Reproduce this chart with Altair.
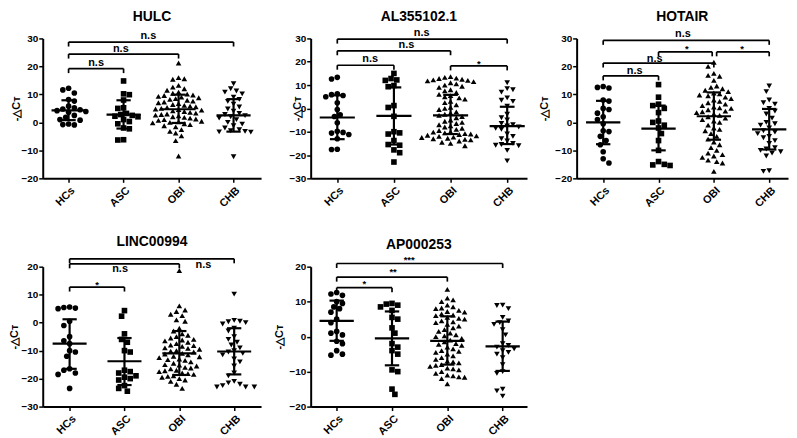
import altair as alt
import pandas as pd

FONT = "Liberation Sans"
GROUPS = ["HCs", "ASC", "OBI", "CHB"]
SHAPES = ["circle", "square", "triangle-up", "triangle-down"]
HEIGHT = 141

# ---------------- HULC ----------------
HULC_HCS = [12.2, 11.6, 10.5, 8.2, 7.6, 5.8, 5.2, 4.8, 4.5, 4.2, 3.9, 3.6, 2.5, 1.8, 1.0, 0.8, -0.6, -0.8, -0.9]
HULC_ASC = [14.8, 10.2, 9.9, 8.0, 5.2, 5.0, 3.2, 2.8, 2.5, 2.2, 2.0, 1.0, 0.3, -0.5, -2.0, -2.3, -6.2, -6.3]
HULC_OBI = [21.2, 16.0, 15.6, 15.4, 13.2, 12.6, 12.0, 11.5, 10.8, 10.4, 10.1, 9.8, 9.6, 9.3, 9.0, 8.8, 8.5,
            8.2, 7.9, 7.6, 7.3, 7.0, 6.7, 6.4, 6.1, 5.8, 5.6, 5.3, 5.0, 4.8, 4.6, 4.4, 4.1, 3.9, 3.6, 3.3,
            3.0, 2.8, 2.6, 2.3, 2.0, 1.8, 1.5, 1.2, 1.0, 0.7, 0.4, 0.2, 0.0, -0.2, -0.5, -0.8, -1.2, -1.6,
            -2.6, -3.2, -3.8, -4.8, -6.5, -12.0]
HULC_CHB = [13.8, 12.0, 11.2, 10.8, 10.2, 9.0, 8.2, 7.5, 6.5, 5.5, 4.8, 4.0, 3.2, 2.8, 2.4, 2.0, 1.5, 1.0,
            0.0, -0.6, -1.2, -2.0, -2.6, -3.0, -3.2, -3.4, -3.5, -12.3]
HULC_MEAN = [4.3, 2.8, 4.7, 2.5]
HULC_UP = [7.9, 7.9, 9.9, 8.3]
HULC_LO = [0.8, -2.2, -0.2, -3.3]
HULC_BR_FROM = [0, 0, 0]
HULC_BR_TO = [1, 2, 3]
HULC_BR_Y = [19.2, 24.4, 28.7]
HULC_BR_TEXT = ["n.s", "n.s", "n.s"]
HULC_LAB_X = [0.5, 0.95, 1.45]
HULC_LAB_Y = [21.2, 26.2, 31.0]

# ---------------- AL355102.1 ----------------
AL_HCS = [13.3, 12.6, 6.3, 5.9, 5.5, 5.0, 2.4, -0.5, -2.8, -3.5, -6.2, -9.8, -10.3, -10.6, -11.2, -13.0, -17.5, -17.6]
AL_ASC = [15.0, 12.8, 12.2, 12.0, 9.8, 9.3, 1.2, 0.4, -3.4, -10.0, -10.5, -11.0, -13.8, -15.5, -15.8, -17.8, -19.0, -23.0]
AL_OBI = [13.6, 13.3, 13.0, 12.8, 12.5, 12.2, 12.0, 11.8, 11.5, 11.0, 10.5, 10.0, 9.5, 9.0, 8.0, 7.5, 6.8,
          6.0, 5.5, 5.0, 4.5, 4.0, 3.0, 2.5, 1.5, 0.5, 0.0, -0.5, -1.5, -2.0, -2.5, -3.0, -3.5, -4.0, -5.0,
          -5.5, -6.0, -6.5, -7.0, -7.5, -8.0, -8.5, -9.0, -9.5, -10.0, -10.2, -10.5, -10.8, -11.0, -11.2,
          -11.5, -11.8, -12.0, -12.3, -12.5, -12.8, -13.0, -13.3, -13.5, -14.0, -14.5, -15.0, -16.0]
AL_CHB = [11.0, 8.5, 8.0, 7.0, 4.5, 3.5, 3.0, 1.0, -2.5, -4.0, -5.0, -6.5, -7.0, -7.5, -8.0, -8.5, -9.0,
          -11.0, -12.0, -13.0, -14.0, -15.0, -15.5, -15.8, -16.0, -18.0, -22.5]
AL_MEAN = [-3.9, -3.2, -3.0, -7.6]
AL_UP = [5.6, 9.0, 5.8, 0.7]
AL_LO = [-13.2, -15.5, -11.0, -15.3]
AL_BR_FROM = [0, 0, 0, 2]
AL_BR_TO = [1, 2, 3, 3]
AL_BR_Y = [18.5, 24.7, 29.7, 18.2]
AL_BR_TEXT = ["n.s", "n.s", "n.s", "*"]
AL_LAB_X = [0.58, 1.22, 1.49, 2.5]
AL_LAB_Y = [21.3, 27.2, 32.5, 20.3]

# ---------------- HOTAIR ----------------
HOT_HCS = [12.8, 12.5, 12.3, 8.0, 7.6, 5.0, 4.6, 3.3, 2.0, 1.0, -0.5, -3.0, -3.3, -5.0, -6.5, -8.0, -10.5, -13.0, -14.5]
HOT_ASC = [13.5, 9.0, 6.5, 6.0, 5.0, 3.5, 0.5, 0.0, -1.0, -2.0, -4.0, -6.5, -10.0, -14.0, -15.0, -15.2, -15.4]
HOT_OBI = [21.5, 20.0, 17.5, 16.8, 16.5, 15.0, 13.0, 12.5, 12.0, 11.5, 11.0, 10.5, 10.2, 9.8, 9.5, 9.0,
           8.5, 8.0, 7.5, 7.0, 6.5, 6.0, 5.5, 5.2, 5.0, 4.5, 4.0, 3.8, 3.5, 3.0, 2.5, 2.0, 1.5, 1.0, 0.5,
           0.0, -1.0, -2.0, -2.5, -3.0, -4.0, -5.0, -6.0, -7.0, -8.0, -9.0, -10.0, -11.0, -11.5, -12.0,
           -12.5, -13.5, -14.0, -14.5, -17.5]
HOT_CHB = [13.0, 11.0, 8.0, 7.0, 6.5, 5.0, 4.0, 3.0, 1.5, 0.0, -0.5, -1.0, -2.0, -3.0, -3.5, -4.0, -5.0,
           -5.5, -6.5, -7.5, -9.0, -9.5, -10.0, -10.5, -11.0, -12.0, -17.3, -17.5]
HOT_MEAN = [0.0, -2.2, 2.2, -2.5]
HOT_UP = [7.7, 6.0, 10.7, 4.8]
HOT_LO = [-7.8, -10.0, -6.2, -9.7]
HOT_BR_FROM = [0, 0, 1, 2.05, 0]
HOT_BR_TO = [1, 2, 1.97, 3, 3]
HOT_BR_Y = [16.6, 21.2, 25.2, 25.2, 29.3]
HOT_BR_TEXT = ["n.s", "n.s", "*", "*", "n.s"]
HOT_LAB_X = [0.57, 0.93, 1.51, 2.51, 1.44]
HOT_LAB_Y = [18.3, 22.6, 27.0, 27.0, 31.4]

# ---------------- LINC00994 ----------------
LINC_HCS = [5.6, 5.4, 5.2, 5.0, 0.5, -1.0, -5.0, -6.5, -7.5, -10.0, -10.5, -12.0, -16.5, -17.0, -18.0, -18.5, -23.5]
LINC_ASC = [4.3, 2.3, -4.0, -6.0, -7.0, -10.0, -10.5, -17.0, -17.5, -18.0, -19.0, -19.5, -20.0, -20.5, -22.5, -23.5, -24.5]
LINC_OBI = [18.6, 6.0, 4.5, 4.0, 3.0, 2.5, 1.0, 0.5, -2.0, -3.0, -4.0, -4.5, -5.0, -5.5, -6.0, -6.2, -6.5,
            -7.0, -7.5, -8.0, -8.2, -8.5, -9.0, -9.2, -9.5, -10.0, -10.2, -10.5, -11.0, -11.2, -11.5, -12.0,
            -12.2, -12.5, -13.0, -13.2, -13.5, -14.0, -14.5, -15.0, -15.2, -15.5, -16.0, -16.2, -16.5, -17.0,
            -17.2, -17.5, -18.0, -18.2, -18.5, -19.0, -19.2, -19.5, -20.0, -20.5, -21.0, -22.0, -23.5]
LINC_CHB = [10.2, 0.8, 0.5, 0.3, 0.0, -0.5, -2.0, -3.0, -5.0, -6.0, -7.0, -8.0, -9.0, -10.0, -10.5, -11.0,
            -11.5, -13.0, -14.0, -15.5, -18.0, -19.0, -21.0, -21.5, -22.0, -22.5, -23.0, -23.0, -23.0]
LINC_MEAN = [-7.5, -13.8, -11.0, -10.3]
LINC_UP = [1.2, -5.5, -3.0, -2.0]
LINC_LO = [-16.5, -22.3, -18.7, -18.5]
LINC_BR_FROM = [0, 0, 0]
LINC_BR_TO = [1, 2, 3]
LINC_BR_Y = [12.7, 21.0, 22.8]
LINC_BR_TEXT = ["*", "n.s", "n.s"]
LINC_LAB_X = [0.5, 0.92, 2.44]
LINC_LAB_Y = [14.4, 19.3, 20.7]

# ---------------- AP000253 ----------------
AP_HCS = [12.6, 12.2, 11.8, 10.0, 9.5, 8.5, 8.0, 7.0, 5.0, 4.0, 1.5, 1.0, 0.5, -1.3, -2.0, -4.0, -5.0, -5.3]
AP_ASC = [9.5, 9.3, 9.0, 8.5, 7.5, 5.5, 5.0, 2.5, 1.0, -2.0, -3.0, -4.0, -5.0, -9.5, -10.0, -15.0, -16.5]
AP_OBI = [13.5, 11.0, 10.5, 10.0, 9.0, 8.5, 8.2, 8.0, 7.5, 7.2, 7.0, 6.5, 6.2, 6.0, 5.5, 5.2, 5.0, 4.5,
          4.2, 4.0, 3.5, 3.0, 2.5, 2.0, 1.5, 1.0, 0.5, 0.2, 0.0, -0.5, -1.0, -1.5, -2.0, -2.2, -2.5, -3.0,
          -3.5, -4.0, -4.2, -4.5, -5.0, -5.5, -6.0, -6.5, -7.0, -7.2, -7.5, -8.0, -8.2, -8.5, -9.0, -9.2,
          -9.5, -10.0, -10.5, -11.0, -11.2, -11.5, -11.6, -12.0, -13.5]
AP_CHB = [9.0, 8.9, 8.0, 5.5, 4.5, 4.0, 3.5, 2.0, 0.5, -2.0, -2.5, -3.0, -3.5, -4.0, -4.5, -5.0, -6.0,
          -8.0, -10.0, -10.5, -15.0, -15.5, -17.0]
AP_MEAN = [4.5, -0.5, -1.2, -2.8]
AP_UP = [10.3, 7.2, 5.8, 4.3]
AP_LO = [-1.2, -8.2, -8.0, -9.8]
AP_BR_FROM = [0, 0, 0]
AP_BR_TO = [1, 2, 3]
AP_BR_Y = [14.0, 17.0, 20.9]
AP_BR_TEXT = ["*", "**", "***"]
AP_LAB_X = [0.5, 1.02, 1.31]
AP_LAB_Y = [15.8, 19.1, 22.6]

PANELS = [
    dict(title="HULC", ydom=[-20, 30], xdom=[-0.47, 3.5], width=220, ytx=-26, toff=8.5, tdy=14,
         groups=[HULC_HCS, HULC_ASC, HULC_OBI, HULC_CHB], mean=HULC_MEAN, up=HULC_UP, lo=HULC_LO,
         bf=HULC_BR_FROM, bt=HULC_BR_TO, by=HULC_BR_Y, btext=HULC_BR_TEXT, lx=HULC_LAB_X, ly=HULC_LAB_Y),
    dict(title="AL355102.1", ydom=[-30, 30], xdom=[-0.47, 3.35], width=218, ytx=-13, toff=5.5, tdy=14,
         groups=[AL_HCS, AL_ASC, AL_OBI, AL_CHB], mean=AL_MEAN, up=AL_UP, lo=AL_LO,
         bf=AL_BR_FROM, bt=AL_BR_TO, by=AL_BR_Y, btext=AL_BR_TEXT, lx=AL_LAB_X, ly=AL_LAB_Y),
    dict(title="HOTAIR", ydom=[-20, 30], xdom=[-0.48, 3.34], width=213, ytx=-32, toff=7.5, tdy=14,
         groups=[HOT_HCS, HOT_ASC, HOT_OBI, HOT_CHB], mean=HOT_MEAN, up=HOT_UP, lo=HOT_LO,
         bf=HOT_BR_FROM, bt=HOT_BR_TO, by=HOT_BR_Y, btext=HOT_BR_TEXT, lx=HOT_LAB_X, ly=HOT_LAB_Y),
    dict(title="LINC00994", ydom=[-30, 20], xdom=[-0.49, 3.49], width=220, ytx=-28, toff=11, tdy=13,
         groups=[LINC_HCS, LINC_ASC, LINC_OBI, LINC_CHB], mean=LINC_MEAN, up=LINC_UP, lo=LINC_LO,
         bf=LINC_BR_FROM, bt=LINC_BR_TO, by=LINC_BR_Y, btext=LINC_BR_TEXT, lx=LINC_LAB_X, ly=LINC_LAB_Y),
    dict(title="AP000253", ydom=[-20, 20], xdom=[-0.47, 3.44], width=218, ytx=-31, toff=3, tdy=11,
         groups=[AP_HCS, AP_ASC, AP_OBI, AP_CHB], mean=AP_MEAN, up=AP_UP, lo=AP_LO,
         bf=AP_BR_FROM, bt=AP_BR_TO, by=AP_BR_Y, btext=AP_BR_TEXT, lx=AP_LAB_X, ly=AP_LAB_Y),
]


def swarm_offsets(vals, xpx, ypx, d=5.8):
    """Deterministic beeswarm: place points side by side where they would overlap."""
    order = sorted(range(len(vals)), key=lambda i: -vals[i])
    placed = []
    out = [0.0] * len(vals)
    for n, i in enumerate(order):
        yy = vals[i] * ypx
        best = 0.0
        sign = 1 if n % 2 == 0 else -1
        for k in range(0, 40):
            step = ((k + 1) // 2) * d * 0.5
            cand = 0.0 if k == 0 else (sign * step if k % 2 == 1 else -sign * step)
            if all((cand - px) ** 2 + (yy - py) ** 2 >= d * d for px, py in placed):
                best = cand
                break
        placed.append((best, yy))
        out[i] = best / xpx
    return out


def panel_chart(p):
    W, H = p["width"], HEIGHT
    y0, y1 = p["ydom"]
    x0, x1 = p["xdom"]
    xpx = W / (x1 - x0)
    ypx = H / (y1 - y0)

    rows = []
    for gi, vals in enumerate(p["groups"]):
        offs = swarm_offsets(vals, xpx, ypx)
        for v, o in zip(vals, offs):
            rows.append({"g": GROUPS[gi], "x": gi + o, "v": v})
    pts = pd.DataFrame(rows)

    eb = pd.DataFrame({
        "idx": list(range(4)), "mean": p["mean"], "up": p["up"], "lo": p["lo"],
    })
    eb["m1"] = eb["idx"] - 0.31
    eb["m2"] = eb["idx"] + 0.31
    eb["c1"] = eb["idx"] - 0.13
    eb["c2"] = eb["idx"] + 0.13
    caps = pd.concat([
        eb[["c1", "c2"]].assign(yy=eb["up"]),
        eb[["c1", "c2"]].assign(yy=eb["lo"]),
    ])

    br = pd.DataFrame({"bf": p["bf"], "bt": p["bt"], "by": p["by"]})
    drops = pd.DataFrame({
        "bx": list(p["bf"]) + list(p["bt"]),
        "by": list(p["by"]) * 2,
    })
    labs = pd.DataFrame({"lx": p["lx"], "ly": p["ly"], "t": p["btext"]})
    labs_ns = labs[labs["t"] == "n.s"]
    labs_star = labs[labs["t"] != "n.s"]

    xs = alt.Scale(domain=[x0, x1], nice=False, zero=False)
    ys = alt.Scale(domain=[y0, y1], nice=False, zero=False)
    xa = alt.Axis(values=[0, 1, 2, 3],
                  labelExpr="['HCs','ASC','OBI','CHB'][datum.value]",
                  labelAngle=-45, title=None, grid=False, labelOverlap=False)
    ya = alt.Axis(values=list(range(y0, y1 + 1, 10)), title="-△Cᴛ",
                  titleX=p["ytx"], titleBaseline="middle", grid=False, labelOverlap=False)

    def X(f):
        return alt.X(f, type="quantitative", scale=xs, axis=xa)

    def Y(f):
        return alt.Y(f, type="quantitative", scale=ys, axis=ya)

    points = alt.Chart(pts).mark_point(filled=True, opacity=1, size=32, color="black").encode(
        x=X("x"), y=Y("v"),
        shape=alt.Shape("g:N", scale=alt.Scale(domain=GROUPS, range=SHAPES), legend=None),
    )
    vline = alt.Chart(eb).mark_rule(color="black", strokeWidth=2.2).encode(
        x=X("idx"), y=Y("lo"), y2=alt.Y2("up"))
    mline = alt.Chart(eb).mark_rule(color="black", strokeWidth=2.2).encode(
        x=X("m1"), x2=alt.X2("m2"), y=Y("mean"))
    cline = alt.Chart(caps).mark_rule(color="black", strokeWidth=2.2).encode(
        x=X("c1"), x2=alt.X2("c2"), y=Y("yy"))
    bline = alt.Chart(br).mark_rule(color="black", strokeWidth=1.7).encode(
        x=X("bf"), x2=alt.X2("bt"), y=Y("by"))
    bdrop = alt.Chart(drops).mark_rule(color="black", strokeWidth=1.7, y2Offset=4.5).encode(
        x=X("bx"), y=Y("by"), y2=alt.Y2("by"))
    layers = [points, vline, mline, cline, bline, bdrop]
    if len(labs_ns):
        layers.append(alt.Chart(labs_ns).mark_text(font=FONT, fontWeight="bold", fontSize=11,
                                                   baseline="middle", color="black").encode(
            x=X("lx"), y=Y("ly"), text="t:N"))
    if len(labs_star):
        layers.append(alt.Chart(labs_star).mark_text(font=FONT, fontWeight="bold", fontSize=9.5,
                                                     baseline="middle", dy=2.5, color="black").encode(
            x=X("lx"), y=Y("ly"), text="t:N"))

    return alt.layer(*layers).properties(
        width=W, height=H,
        title=alt.TitleParams(text=p["title"], font=FONT, fontSize=14, fontWeight="bold",
                              color="black", anchor="middle", frame="group",
                              baseline="alphabetic", offset=p["toff"], dy=p["tdy"]),
    )


charts = [panel_chart(p) for p in PANELS]

chart = alt.concat(
    *charts, columns=3, spacing={"row": 89, "column": 50}, bounds="flush", align="each"
).properties(
    padding={"left": 1, "top": 0, "right": 1, "bottom": 1}
).configure_view(
    stroke=None
).configure_axis(
    domainColor="black", domainWidth=2, tickColor="black", tickWidth=1.5, tickSize=4,
    labelFont=FONT, labelFontWeight="bold", labelColor="black", labelFontSize=10, labelPadding=1,
    titleFont=FONT, titleFontWeight="bold", titleColor="black", titleFontSize=11, grid=False,
).configure_axisX(
    labelFontSize=11, labelPadding=2
)

chart.save("out.html", embed_options={"renderer": "svg", "actions": False})
